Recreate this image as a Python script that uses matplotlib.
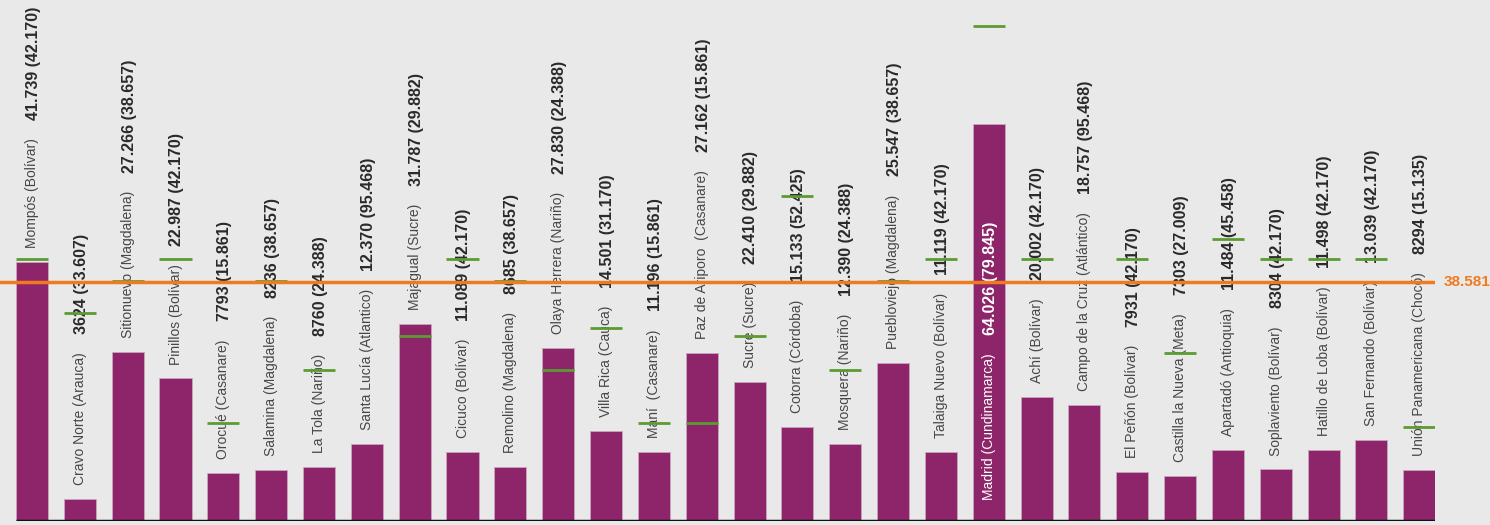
import matplotlib
matplotlib.use("Agg")
import matplotlib.pyplot as plt
from matplotlib import font_manager

names = ["Mompós (Bolívar)", "Cravo Norte (Arauca)", "Sitionuevo (Magdalena)",
         "Pinillos (Bolívar)", "Orocué (Casanare)", "Salamina (Magdalena)",
         "La Tola (Nariño)", "Santa Lucía (Atlantico)", "Majagual (Sucre)",
         "Cicuco (Bolívar)", "Remolino (Magdalena)", "Olaya Herrera (Nariño)",
         "Villa Rica (Cauca)", "Maní  (Casanare)", "Paz de Ariporo  (Casanare)",
         "Sucre (Sucre)", "Cotorra (Córdoba)", "Mosquera (Nariño)",
         "Puebloviejo (Magdalena)", "Talaiga Nuevo (Bolívar)", "Madrid (Cundinamarca)",
         "Achí (Bolívar)", "Campo de la Cruz (Atlántico)", "El Peñón (Bolívar)",
         "Castilla la Nueva (Meta)", "Apartadó (Antioquia)", "Soplaviento (Bolívar)",
         "Hatillo de Loba (Bolívar)", "San Fernando (Bolívar)", "Unión Panamericana (Chocó)"]

values = [41739, 3624, 27266, 22987, 7793, 8236, 8760, 12370, 31787, 11089,
          8685, 27830, 14501, 11196, 27162, 22410, 15133, 12390, 25547, 11119,
          64026, 20002, 18757, 7931, 7303, 11484, 8304, 11498, 13039, 8294]

refs = [42170, 33607, 38657, 42170, 15861, 38657, 24388, 95468, 29882, 42170,
        38657, 24388, 31170, 15861, 15861, 29882, 52425, 24388, 38657, 42170,
        79845, 42170, 95468, 42170, 27009, 45458, 42170, 42170, 42170, 15135]

average = 38581
average_label = "38.581"


def fmt(v):
    return f"{v:,}".replace(",", ".") if v >= 10000 else str(v)


avail = {f.name for f in font_manager.fontManager.ttflist}
fam = "Liberation Sans Narrow" if "Liberation Sans Narrow" in avail else "Liberation Sans"
plt.rcParams["font.family"] = [fam, "DejaVu Sans"]

BG = "#e9e9e9"
BAR = "#8e2469"
GREEN = "#5b9c30"
ORANGE = "#f07a20"

fig = plt.figure(figsize=(14.9, 5.25), dpi=100, facecolor=BG)
ax = fig.add_axes([0, 4 / 525, 1435 / 1490, 521 / 525])
ax.set_facecolor(BG)

n = len(values)
x = list(range(n))
w = 0.67
ax.bar(x, values, width=w, color=BAR, edgecolor="#c9a6be", linewidth=0.6, zorder=1)
ax.hlines(refs, [i - w / 2 for i in x], [i + w / 2 for i in x], colors=GREEN,
          linewidth=2, zorder=3)
ax.axhline(average, color=ORANGE, linewidth=2.5, zorder=4)
ax.hlines(0, -w / 2, n - 1 + w / 2, colors="#111111", linewidth=2.5, zorder=5)

ax.set_xlim(-0.669, 29.33)
ax.set_ylim(0, 84000)
ax.axis("off")

for i, (nm, v, r) in enumerate(zip(names, values, refs)):
    inside = v > 50000
    if inside:
        anchor_y, off, c1, c2 = 0, 15, "white", "white"
    else:
        anchor_y, off, c1, c2 = v, 10, "#474747", "#2a2a2a"
    t1 = ax.annotate(nm, xy=(i, anchor_y), xytext=(0, off), textcoords="offset points",
                     rotation=90, ha="center", va="bottom", fontsize=10, color=c1,
                     zorder=2)
    ax.annotate(f"{fmt(v)} ({fmt(r)})", xy=(0.5, 1), xycoords=t1, xytext=(1, 13),
                textcoords="offset points", rotation=90, ha="center", va="bottom",
                fontsize=11.5, fontweight="bold", color=c2, zorder=2)

ax.annotate(average_label, xy=(1, average), xycoords=("axes fraction", "data"),
            xytext=(6, 0), textcoords="offset points", ha="left", va="center",
            fontsize=11, fontweight="bold", color=ORANGE, annotation_clip=False)

fig.savefig("out.png", dpi=100, facecolor=BG)
